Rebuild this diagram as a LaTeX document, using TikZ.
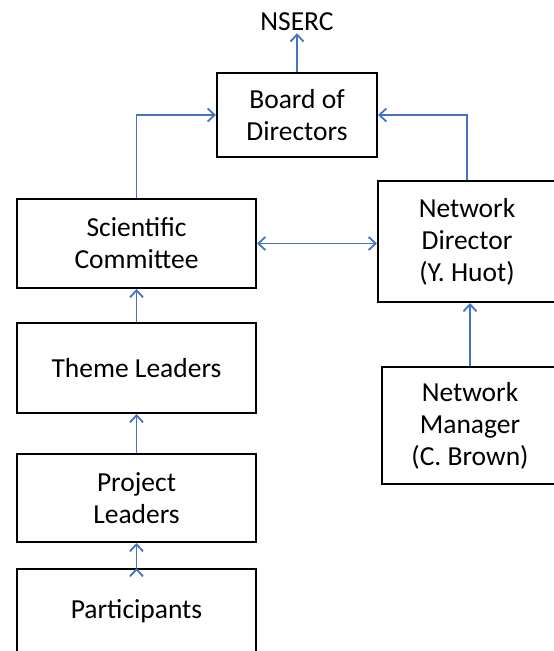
\documentclass[tikz,border=0pt]{standalone}
\usepackage{fontspec}
\setmainfont{Carlito}
\usetikzlibrary{arrows.meta,positioning}

\definecolor{linkblue}{HTML}{4472C4}

\begin{document}
\begin{tikzpicture}[x=1pt,y=-1pt,>={Straight Barb[length=7pt,width=13pt]},
    every node/.style={font=\fontsize{27.5}{32}\selectfont,align=center},
    unit box/.style={draw,line width=2pt,minimum width=239pt,inner sep=0pt},
    link/.style={->,draw=linkblue,line width=1.8pt}]
    \useasboundingbox (0,0) rectangle (554,651);
    \clip (0,0) rectangle (554,651);

    \node (nserc) at (297,22) [inner sep=2pt] {NSERC};
    \node[unit box,minimum width=160pt,minimum height=84pt] (board) at (297,115) {Board of\\Directors};
    \node[unit box,minimum height=89pt] (sci) at (136.5,243.5) {Scientific\\Committee};
    \node[unit box,minimum width=178pt,minimum height=121pt] (dir) at (467,241.5) {Network\\Director\\(Y. Huot)};
    \node[unit box,minimum height=90pt] (theme) at (136.5,368) {Theme Leaders};
    \node[unit box,minimum height=88pt] (proj) at (136.5,498) {Project\\Leaders};
    \node[unit box,minimum height=84pt] (part) at (136.5,611) {Participants};
    \node[unit box,minimum width=176pt,minimum height=117pt] (mgr) at (470,425.5) {Network\\Manager\\(C. Brown)};

    \path[link]
    (board.north) edge (nserc.south)
    (sci.north) edge [to path={|- (\tikztotarget)}] (board.west)
    (dir.north) edge [to path={|- (\tikztotarget)}] (board.east)
    (sci.east) edge [<->] (sci.east -| dir.west)
    (mgr.north) edge (mgr.north |- dir.south)
    (theme.north) edge (sci.south)
    (proj.north) edge (theme.south)
    (part.north) edge (proj.south);
\end{tikzpicture}
\end{document}
